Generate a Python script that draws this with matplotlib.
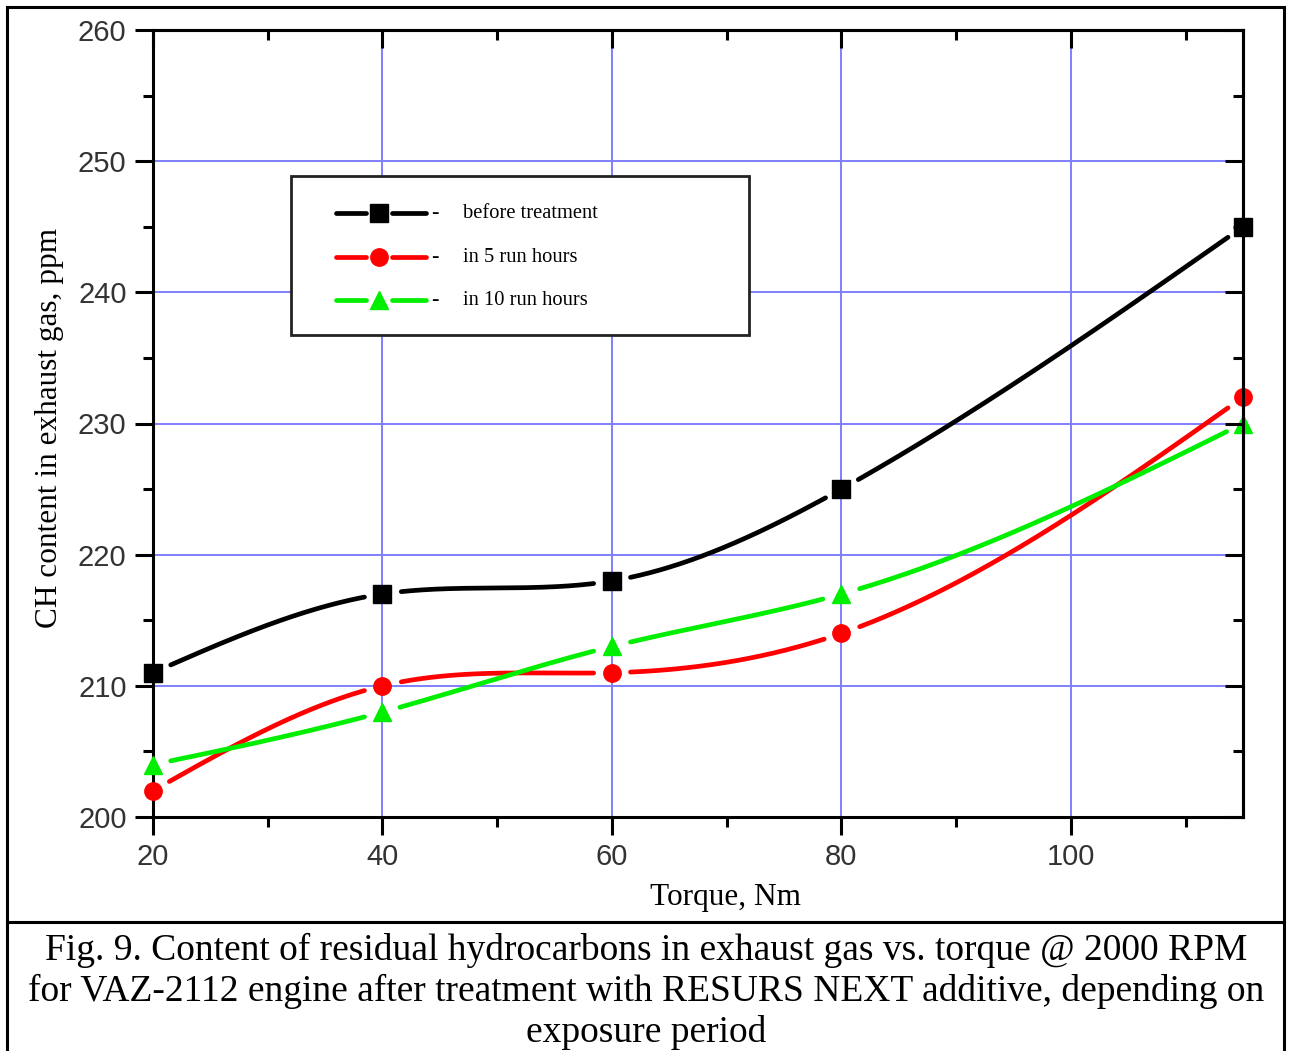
import numpy as np
import matplotlib
matplotlib.use('Agg')
import matplotlib.pyplot as plt
from matplotlib.patches import Rectangle
from matplotlib.lines import Line2D

torque = [20, 40, 60, 80, 115]
before_treatment = [211, 217, 218, 225, 245]
run_5h = [202, 210, 211, 214, 232]
run_10h = [204, 208, 213, 217, 230]

series = [
    ('before treatment', before_treatment, 'black', 's'),
    ('in 5 run hours', run_5h, '#ff0000', 'o'),
    ('in 10 run hours', run_10h, '#00ee00', '^'),
]

caption = ('Fig. 9. Content of residual hydrocarbons in exhaust gas vs. torque @ 2000 RPM\n'
           'for VAZ-2112 engine after treatment with RESURS NEXT additive, depending on\n'
           'exposure period')

W, H = 1292, 1051


def spline(x, y, xs):
    # natural cubic spline, plain numpy
    x = np.asarray(x, float)
    y = np.asarray(y, float)
    n = len(x)
    h = np.diff(x)
    A = np.zeros((n, n))
    rhs = np.zeros(n)
    A[0, 0] = A[-1, -1] = 1
    for i in range(1, n - 1):
        A[i, i - 1] = h[i - 1]
        A[i, i] = 2 * (h[i - 1] + h[i])
        A[i, i + 1] = h[i]
        rhs[i] = 6 * ((y[i + 1] - y[i]) / h[i] - (y[i] - y[i - 1]) / h[i - 1])
    M = np.linalg.solve(A, rhs)
    out = np.empty_like(xs)
    for k, xv in enumerate(xs):
        i = min(max(np.searchsorted(x, xv) - 1, 0), n - 2)
        t1 = x[i + 1] - xv
        t0 = xv - x[i]
        out[k] = (M[i] * t1 ** 3 / (6 * h[i]) + M[i + 1] * t0 ** 3 / (6 * h[i])
                  + (y[i] / h[i] - M[i] * h[i] / 6) * t1
                  + (y[i + 1] / h[i] - M[i + 1] * h[i] / 6) * t0)
    return out


plt.rcParams['font.family'] = ['Liberation Serif', 'DejaVu Serif']
fig = plt.figure(figsize=(W / 100, H / 100), dpi=100)
ax = fig.add_axes([153 / W, 1 - 817 / H, (1243 - 153) / W, (817 - 30) / H])
ax.set_xlim(20, 115)
ax.set_ylim(200, 260)

xmaj = [20, 40, 60, 80, 100]
xmin = np.arange(30, 115, 20)
ymaj = np.arange(200, 261, 10)
ymin = np.arange(205, 260, 10)
ax.set_xticks(xmaj)
ax.set_xticks(xmin, minor=True)
ax.set_yticks(ymaj)
ax.set_yticks(ymin, minor=True)
ax.grid(True, which='major', color='#7f7fff', linewidth=1.4)
ax.set_axisbelow(True)
for s in ax.spines.values():
    s.set_linewidth(2.2)
    s.set_color('black')

ax.tick_params(which='both', direction='out', width=2.2, colors='black',
               labelcolor='#333333', labelsize=21, pad=6)
ax.tick_params(which='major', length=13)
ax.tick_params(which='minor', length=7)
for lab in ax.get_xticklabels() + ax.get_yticklabels():
    lab.set_fontfamily('Liberation Sans')

# inward ticks on top and right
sec_x = ax.secondary_xaxis('top')
sec_x.set_xticks(xmaj)
sec_x.set_xticks(xmin, minor=True)
sec_y = ax.secondary_yaxis('right')
sec_y.set_yticks(ymaj)
sec_y.set_yticks(ymin, minor=True)
for sa in (sec_x, sec_y):
    sa.tick_params(which='both', direction='in', width=2.2, labeltop=False, labelright=False)
    sa.tick_params(which='major', length=13)
    sa.tick_params(which='minor', length=7)
    sa.set_zorder(5)
    for s in sa.spines.values():
        s.set_linewidth(2.2)

ax.set_xlabel('Torque, Nm', fontsize=22.5, va='center')
ax.xaxis.set_label_coords((725 - 153) / 1090, -(897 - 817) / 787)
ax.set_ylabel('CH content in exhaust gas, ppm', fontsize=22.5, va='center')
ax.yaxis.set_label_coords(-(153 - 50) / 1090, (817 - 428) / 787)

xs = np.linspace(20, 115, 800)
gap = 18
for name, vals, color, mk in series:
    ys = spline(torque, vals, xs)
    pix = ax.transData.transform(np.column_stack([xs, ys]))
    nodes = ax.transData.transform(np.column_stack([torque, vals]))
    mask = np.zeros(len(xs), bool)
    for p in nodes:
        mask |= np.hypot(pix[:, 0] - p[0], pix[:, 1] - p[1]) < gap
    ys = np.where(mask, np.nan, ys)
    ax.plot(xs, ys, color=color, lw=3.4, solid_capstyle='round', clip_on=False)
    ax.plot(torque, vals, linestyle='none', marker=mk, color=color,
            markersize=12.5, clip_on=False, zorder=4)

# legend box
def ax_frac(px, py):
    return (px - 153) / 1090, (817 - py) / 787

x0, y0 = ax_frac(291, 335)
x1, y1 = ax_frac(749, 176)
ax.add_patch(Rectangle((x0, y0), x1 - x0, y1 - y0, transform=ax.transAxes,
                       facecolor='white', edgecolor='#222222', lw=2, zorder=5))
for (name, vals, color, mk), row in zip(series, [213, 257, 300]):
    for a, b in [(336, 366), (392, 426)]:
        xa, yy = ax_frac(a, row)
        xb, _ = ax_frac(b, row)
        ax.add_line(Line2D([xa, xb], [yy, yy], transform=ax.transAxes, color=color,
                           lw=3.4, solid_capstyle='round', zorder=6))
    xm, yy = ax_frac(379, row)
    ax.add_line(Line2D([xm], [yy], transform=ax.transAxes, color=color, marker=mk,
                       markersize=12.5, linestyle='none', zorder=6))
    xd, _ = ax_frac(431, row)
    ax.text(xd, yy, '-', transform=ax.transAxes, fontsize=16, fontweight='bold',
            va='center', zorder=6)
    xt, _ = ax_frac(463, row)
    ax.text(xt, yy, name, transform=ax.transAxes, fontsize=14.8, va='center', zorder=6)

# outer frame and caption
fig.add_artist(Rectangle((7 / W, -0.01), (1284 - 7) / W, 1.01 - 7 / H, transform=fig.transFigure,
                         fill=False, edgecolor='black', lw=2.2))
fig.add_artist(Line2D([7 / W, 1284 / W], [1 - 922 / H, 1 - 922 / H], transform=fig.transFigure,
                      color='black', lw=2.2))
fig.text(646 / W, 1 - 991 / H, caption, ha='center', va='center', fontsize=27,
         linespacing=1.22)

fig.savefig('out.png', dpi=100)
